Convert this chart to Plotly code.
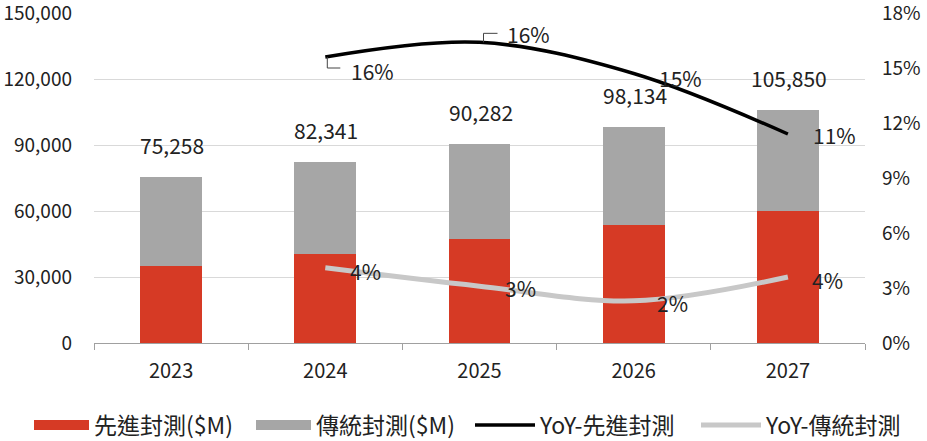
import plotly.graph_objects as go

years = ["2023", "2024", "2025", "2026", "2027"]
advanced = [35100, 40600, 47400, 53700, 60000]
totals = [75258, 82341, 90282, 98134, 105850]
traditional = [t - a for t, a in zip(totals, advanced)]

yoy_years = ["2024", "2025", "2026", "2027"]
yoy_adv = [15.6, 16.4, 14.7, 11.4]
yoy_trad = [4.1, 3.1, 2.3, 3.6]

left_ticks = [0, 30000, 60000, 90000, 120000, 150000]
right_ticks = [0, 3, 6, 9, 12, 15, 18]

FONT = "Noto Sans CJK TC"
RED = "#D63A25"
GRAY = "#A6A6A6"
TXT = "#222222"

fig = go.Figure()
fig.add_trace(go.Bar(x=years, y=advanced, name="先進封測($M)", marker_color=RED,
                     width=0.4, marker_line_width=0, showlegend=False))
fig.add_trace(go.Bar(x=years, y=traditional, name="傳統封測($M)", marker_color=GRAY,
                     width=0.4, marker_line_width=0, showlegend=False))
# legend keys for the bar series (wide swatches, as in the original)
fig.add_trace(go.Scatter(x=[None], y=[None], name="先進封測($M)", mode="lines",
                         line=dict(color=RED, width=15), legend="legend"))
fig.add_trace(go.Scatter(x=[None], y=[None], name="傳統封測($M)", mode="lines",
                         line=dict(color=GRAY, width=15), legend="legend"))
fig.add_trace(go.Scatter(x=yoy_years, y=yoy_adv, name="YoY-先進封測", yaxis="y2",
                         mode="lines", legend="legend2",
                         line=dict(color="#000000", width=3.5, shape="spline", smoothing=1)))
fig.add_trace(go.Scatter(x=yoy_years, y=yoy_trad, name="YoY-傳統封測", yaxis="y2",
                         mode="lines", legend="legend2",
                         line=dict(color="#C8C8C8", width=5, shape="spline", smoothing=1)))

def pct(v):
    return f"{int(v + 0.5)}%"

def cat(y):
    # annotations on a category axis use the category's serial number
    return years.index(y)

ann = []
for x, t in zip(years, totals):
    ann.append(dict(x=cat(x), y=t, xref="x", yref="y", text=f"{t:,}", showarrow=False,
                    yanchor="middle", yshift=32, xshift=1,
                    font=dict(family=FONT, size=21, color=TXT)))

adv_offsets = [(47, -14), (49, 8), (47, -4), (47, -1)]
trad_offsets = [(40, -3), (41, -2), (39, -2), (40, -3)]
for x, v, (dx, dy) in zip(yoy_years, yoy_adv, adv_offsets):
    ann.append(dict(x=cat(x), y=v, xref="x", yref="y2", text=pct(v), showarrow=False,
                    xshift=dx, yshift=dy, font=dict(family=FONT, size=21, color=TXT)))
for x, v, (dx, dy) in zip(yoy_years, yoy_trad, trad_offsets):
    ann.append(dict(x=cat(x), y=v, xref="x", yref="y2", text=pct(v), showarrow=False,
                    xshift=dx, yshift=dy, font=dict(family=FONT, size=21, color=TXT)))

shapes = [
    dict(type="path", xref="x", yref="y2", xsizemode="pixel", ysizemode="pixel",
         xanchor=cat(yoy_years[0]), yanchor=yoy_adv[0], path="M 2,0 L 2,-11 L 15,-11",
         line=dict(color="#444444", width=1)),
    dict(type="path", xref="x", yref="y2", xsizemode="pixel", ysizemode="pixel",
         xanchor=cat(yoy_years[1]), yanchor=yoy_adv[1], path="M 4,0 L 4,9 L 18,9",
         line=dict(color="#444444", width=1)),
]

legend_common = dict(orientation="h", xanchor="left", xref="container",
                     y=1 - 425 / 441, yanchor="middle", yref="container",
                     font=dict(family=FONT, size=23, color=TXT),
                     traceorder="normal", bgcolor="rgba(0,0,0,0)")

fig.update_layout(
    width=927, height=441,
    margin=dict(l=94, r=62, t=13, b=97.5, autoexpand=False),
    paper_bgcolor="white", plot_bgcolor="white",
    barmode="stack",
    font=dict(family=FONT, size=20, color=TXT),
    showlegend=True,
    legend=dict(legend_common, x=29 / 927, itemwidth=55, entrywidth=152),
    legend2=dict(legend_common, x=470 / 927, itemwidth=60, entrywidth=151),
    xaxis=dict(type="category", range=[-0.5, 4.5], showline=True, linecolor="#A0A0A0", linewidth=1,
               ticks="outside", tickson="boundaries", ticklen=6, tickcolor="#A0A0A0",
               showgrid=False, automargin=False, ticklabelstandoff=10,
               tickfont=dict(family=FONT, size=20, color=TXT)),
    yaxis=dict(range=[0, 150000], tickvals=left_ticks,
               ticktext=[f"{v:,}" for v in left_ticks], showgrid=True,
               gridcolor="#D9D9D9", gridwidth=1, zeroline=False, showline=False,
               ticks="", automargin=False, ticklabelstandoff=21,
               ticklabeloverflow="allow",
               tickfont=dict(family=FONT, size=19, color=TXT)),
    yaxis2=dict(range=[0, 18], tickvals=right_ticks,
                ticktext=[f"{v}%" for v in right_ticks], overlaying="y",
                side="right", showgrid=False, zeroline=False, showline=False,
                ticks="", automargin=False, ticklabelstandoff=16,
                ticklabeloverflow="allow",
                tickfont=dict(family=FONT, size=19, color=TXT)),
    annotations=ann,
    shapes=shapes,
)

fig.write_html("out.html")
